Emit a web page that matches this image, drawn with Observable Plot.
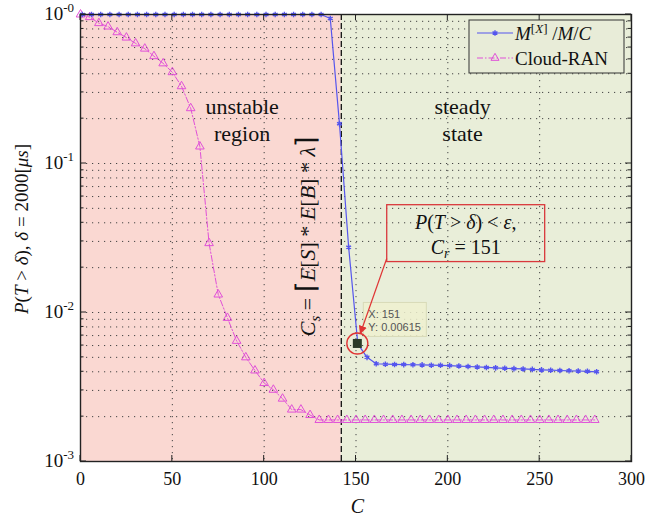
<!DOCTYPE html>
<html><head><meta charset="utf-8">
<script src="https://cdn.jsdelivr.net/npm/d3@7"></script>
<script src="https://cdn.jsdelivr.net/npm/@observablehq/plot@0.6"></script>
<style>
body{margin:0;background:#fff;}
#chart{width:646px;height:522px;}
</style></head><body><div id="chart"></div>
<script>
// ---- data ----
const seriesNames = ["M[X]/M/C", "Cloud-RAN"];
const blueC = [1,6,11,16,21,26,31,36,41,46,51,56,61,66,71,76,81,86,91,96,101,106,111,116,121,126,131,136,141,146,151,156,161,166,171,176,181,186,191,196,201,206,211,216,221,226,231,236,241,246,251,256,261,266,271,276,281];
const blueP = [1,1,1,1,1,1,1,1,1,1,1,1,1,1,1,1,1,1,1,1,1,1,1,1,1,1,1,0.94,0.185,0.0274,0.00615,0.0050,0.00453,0.00450,0.00448,0.00447,0.00446,0.00445,0.00443,0.00442,0.00440,0.00437,0.00434,0.00431,0.00428,0.00425,0.00422,0.00420,0.00418,0.00415,0.00412,0.00410,0.00408,0.00406,0.00405,0.00403,0.00400];
const pinkC = [0,5,10,15,20,25,30,35,40,45,50,55,60,65,70,75,80,85,90,95,100,105,110,115,120,125,130,135,140,145,150,155,160,165,170,175,180,185,190,195,200,205,210,215,220,225,230,235,240,245,250,255,260,265,270,275,280];
const pinkP = [1,0.96,0.875,0.83,0.76,0.70,0.64,0.59,0.525,0.47,0.41,0.33,0.235,0.13,0.0292,0.0132,0.0092,0.00645,0.0050,0.00408,0.00336,0.00303,0.00264,0.00223,0.00223,0.00205,0.0019,0.0019,0.0019,0.0019,0.0019,0.0019,0.0019,0.0019,0.0019,0.0019,0.0019,0.0019,0.0019,0.0019,0.0019,0.0019,0.0019,0.0019,0.0019,0.0019,0.0019,0.0019,0.0019,0.0019,0.0019,0.0019,0.0019,0.0019,0.0019,0.0019,0.0019];
const xTicks = [0,50,100,150,200,250,300];
const yTicks = [1,0.1,0.01,0.001];
const yTickExp = ["-0","-1","-2","-3"];
const cs = 142;            // C_s threshold
const tipPoint = {x:151, y:0.00615};
const regionLabels = [{x:88, y:0.2, text:"unstable\nregion"},{x:208, y:0.2, text:"steady\nstate"}];
const csLabelPos = {x:128, y:0.0323};
const noteBox = {x1:167, x2:253, y1:0.0525, y2:0.0218};

// ---- build tables ----
const blue = blueC.map((c,i)=>({C:c, P:blueP[i]}));
const pink = pinkC.map((c,i)=>({C:c, P:pinkP[i]}));
const yGrid = [];
for (const d of [0.001,0.01,0.1]) for (let k=1;k<=9;k++) yGrid.push(d*k);
yGrid.push(1);

const BLUE = "#5555ee", PINK = "#e050d8";
const SERIF = "'Liberation Serif','Times New Roman',serif";

const plot = Plot.plot({
  width:646, height:522,
  marginLeft:80, marginRight:15, marginTop:14, marginBottom:61,
  style:{fontFamily:SERIF, fontSize:"18px", background:"transparent", color:"#111"},
  x:{domain:[0,300], axis:null},
  y:{type:"log", domain:[0.001,1], axis:null},
  marks:[
    Plot.rect([{x1:0,x2:cs}], {x1:"x1", x2:"x2", fill:"#fad8d2"}),
    Plot.rect([{x1:cs,x2:300}], {x1:"x1", x2:"x2", fill:"#e9eed9"}),
    Plot.ruleY(yGrid.filter(v=>v>0.001 && v<1), {stroke:"#444", strokeWidth:1, strokeDasharray:"1.2,4.8"}),
    Plot.ruleX(xTicks.slice(1,-1), {stroke:"#444", strokeWidth:1, strokeDasharray:"1.2,4.8"}),
    Plot.ruleX([cs], {stroke:"#111", strokeWidth:1.3, strokeDasharray:"6,3"}),
    Plot.line(pink, {x:"C", y:"P", stroke:PINK, strokeWidth:1, strokeDasharray:"6,2,1.5,2"}),
    Plot.dot(pink, {x:"C", y:"P", symbol:"triangle", r:3.2, stroke:PINK, strokeWidth:1, fill:"none"}),
    Plot.line(blue, {x:"C", y:"P", stroke:BLUE, strokeWidth:1.2}),
    Plot.dot(blue, {x:"C", y:"P", symbol:"asterisk", r:2.6, stroke:BLUE, strokeWidth:1.4}),
    Plot.text(regionLabels, {x:"x", y:"y", text:"text", fontSize:22, lineHeight:1.22, fill:"#111", fontFamily:SERIF}),
    Plot.frame({stroke:"#222", strokeWidth:1.4}),
    Plot.axisX({ticks:xTicks, tickSize:0, tickPadding:11, fontSize:18, label:null, fill:"#111"})
  ]
});
document.getElementById("chart").appendChild(plot);

// ---- decorations drawn from the library's scales ----
const svg = d3.select(plot);
const sx = plot.scale("x"), sy = plot.scale("y");
const X = v => sx.apply(v), Y = v => sy.apply(v);
const L = X(0), R = X(300), T = Y(1), B = Y(0.001);
const g = svg.append("g").attr("text-anchor","start");

// inward ticks
yGrid.forEach(v => {
  const major = yTicks.includes(v);
  const len = major ? 6 : 3.5;
  g.append("line").attr("x1",L).attr("x2",L+len).attr("y1",Y(v)).attr("y2",Y(v)).attr("stroke","#222");
  g.append("line").attr("x1",R).attr("x2",R-len).attr("y1",Y(v)).attr("y2",Y(v)).attr("stroke","#222");
});
xTicks.forEach(v => {
  g.append("line").attr("x1",X(v)).attr("x2",X(v)).attr("y1",B).attr("y2",B-6).attr("stroke","#222");
  g.append("line").attr("x1",X(v)).attr("x2",X(v)).attr("y1",T).attr("y2",T+6).attr("stroke","#222");
});

// y tick labels 10^k
yTicks.forEach((v,i) => {
  const t = g.append("text").attr("x",L-6).attr("y",Y(v)+6).attr("text-anchor","end")
    .attr("font-family",SERIF).attr("font-size",19).attr("fill","#111");
  t.append("tspan").text("10");
  t.append("tspan").attr("font-size",13).attr("dy",-8).text(yTickExp[i]);
});

// axis titles
g.append("text").attr("x",(L+R)/2+2).attr("y",513).attr("text-anchor","middle")
  .attr("font-family",SERIF).attr("font-style","italic").attr("font-size",20).attr("fill","#111").text("C");
const yl = g.append("text").attr("transform",`translate(28,229) rotate(-90)`).attr("text-anchor","middle")
  .attr("font-family",SERIF).attr("font-size",19).attr("fill","#111");
yl.append("tspan").attr("font-style","italic").text("P");
yl.append("tspan").text("(");
yl.append("tspan").attr("font-style","italic").text("T");
yl.append("tspan").text(" > ");
yl.append("tspan").attr("font-style","italic").text("δ");
yl.append("tspan").text("), ");
yl.append("tspan").attr("font-style","italic").text("δ");
yl.append("tspan").text(" = 2000[");
yl.append("tspan").attr("font-style","italic").text("μs");
yl.append("tspan").text("]");

// rotated C_s label
const cl = g.append("text").attr("transform",`translate(${X(csLabelPos.x)},${Y(csLabelPos.y)}) rotate(-90)`)
  .attr("text-anchor","middle").attr("font-family",SERIF).attr("font-size",22).attr("fill","#111");
cl.append("tspan").attr("font-style","italic").text("C");
cl.append("tspan").attr("font-style","italic").attr("font-size",15).attr("dy",5).text("s");
cl.append("tspan").attr("dy",-5).text(" = ");
cl.append("tspan").attr("font-size",27).text("⌈");
cl.append("tspan").attr("font-style","italic").text("E");
cl.append("tspan").text("[");
cl.append("tspan").attr("font-style","italic").text("S");
cl.append("tspan").text("] * ");
cl.append("tspan").attr("font-style","italic").text("E");
cl.append("tspan").text("[");
cl.append("tspan").attr("font-style","italic").text("B");
cl.append("tspan").text("] * ");
cl.append("tspan").attr("font-style","italic").text("λ");
cl.append("tspan").attr("font-size",27).text("⌉");

// annotation box
const bx1 = X(noteBox.x1), bx2 = X(noteBox.x2), by1 = Y(noteBox.y1), by2 = Y(noteBox.y2);
g.append("rect").attr("x",bx1).attr("y",by1).attr("width",bx2-bx1).attr("height",by2-by1)
  .attr("fill","none").attr("stroke","#d9383c").attr("stroke-width",1.3);
const cx = (bx1+bx2)/2;
const n1 = g.append("text").attr("x",cx).attr("y",by1+24).attr("text-anchor","middle")
  .attr("font-family",SERIF).attr("font-size",20).attr("fill","#111");
n1.append("tspan").attr("font-style","italic").text("P");
n1.append("tspan").text("(");
n1.append("tspan").attr("font-style","italic").text("T");
n1.append("tspan").text(" > ");
n1.append("tspan").attr("font-style","italic").text("δ");
n1.append("tspan").text(") < ");
n1.append("tspan").attr("font-style","italic").text("ε");
n1.append("tspan").text(",");
const n2 = g.append("text").attr("x",cx).attr("y",by1+49).attr("text-anchor","middle")
  .attr("font-family",SERIF).attr("font-size",20).attr("fill","#111");
n2.append("tspan").attr("font-style","italic").text("C");
n2.append("tspan").attr("font-style","italic").attr("font-size",14).attr("dy",4).text("r");
n2.append("tspan").attr("dy",-4).text(" = 151");

// data tip
const px = X(tipPoint.x), py = Y(tipPoint.y);
g.append("rect").attr("x",px+6).attr("y",py-41).attr("width",63).attr("height",34)
  .attr("fill","#eef0cf").attr("fill-opacity",0.85).attr("stroke","#d8dab8");
g.append("text").attr("x",px+11).attr("y",py-25).attr("text-anchor","start").attr("font-family","'Liberation Sans',Arial,sans-serif")
  .attr("font-size",11).attr("fill","#555").text("X: " + tipPoint.x);
g.append("text").attr("x",px+11).attr("y",py-12).attr("text-anchor","start").attr("font-family","'Liberation Sans',Arial,sans-serif")
  .attr("font-size",11).attr("fill","#555").text("Y: " + tipPoint.y);
g.append("rect").attr("x",px-4.5).attr("y",py-4.5).attr("width",9).attr("height",9).attr("fill","#2a3a28");
g.append("circle").attr("cx",px).attr("cy",py).attr("r",10.5).attr("fill","none").attr("stroke","#e03535").attr("stroke-width",1.4);

// arrow
const defs = svg.append("defs");
defs.append("marker").attr("id","ah").attr("viewBox","0 0 10 10").attr("refX",9).attr("refY",5)
  .attr("markerWidth",7).attr("markerHeight",7).attr("orient","auto")
  .append("path").attr("d","M0,0 L10,5 L0,10 z").attr("fill","#e03535");
g.append("line").attr("x1",bx1).attr("y1",by2-3).attr("x2",px+3).attr("y2",py-10)
  .attr("stroke","#e03535").attr("stroke-width",1.2).attr("marker-end","url(#ah)");

// legend
const lg = g.append("g").attr("text-anchor","start");
const lx = 469, ly = 20, lw = 155, lh = 53;
lg.append("rect").attr("x",lx).attr("y",ly).attr("width",lw).attr("height",lh)
  .attr("fill","#e8ecd8").attr("stroke","#333").attr("stroke-width",1);
lg.append("line").attr("x1",lx+8).attr("x2",lx+44).attr("y1",ly+13).attr("y2",ly+13).attr("stroke",BLUE).attr("stroke-width",1.2);
lg.append("path").attr("d",d3.symbol(d3.symbolAsterisk,22)()).attr("transform",`translate(${lx+26},${ly+13})`).attr("stroke",BLUE).attr("stroke-width",1.4);
lg.append("line").attr("x1",lx+8).attr("x2",lx+44).attr("y1",ly+38).attr("y2",ly+38).attr("stroke",PINK).attr("stroke-width",1).attr("stroke-dasharray","6,2,1.5,2");
lg.append("path").attr("d",d3.symbol(d3.symbolTriangle,28)()).attr("transform",`translate(${lx+26},${ly+38})`).attr("stroke",PINK).attr("fill","none");
const t1 = lg.append("text").attr("x",lx+46).attr("y",ly+20).attr("text-anchor","start").attr("font-family",SERIF).attr("font-size",19).attr("fill","#111");
t1.append("tspan").attr("font-style","italic").text("M");
t1.append("tspan").attr("font-size",13).attr("dy",-7).text("[");
t1.append("tspan").attr("font-size",13).attr("font-style","italic").text("X");
t1.append("tspan").attr("font-size",13).text("]");
t1.append("tspan").attr("dy",7).text(" /");
t1.append("tspan").attr("font-style","italic").text("M");
t1.append("tspan").text("/");
t1.append("tspan").attr("font-style","italic").text("C");
lg.append("text").attr("x",lx+46).attr("y",ly+45).attr("text-anchor","start").attr("font-family",SERIF).attr("font-size",19).attr("fill","#111").text(seriesNames[1]);
</script>
</body></html>
